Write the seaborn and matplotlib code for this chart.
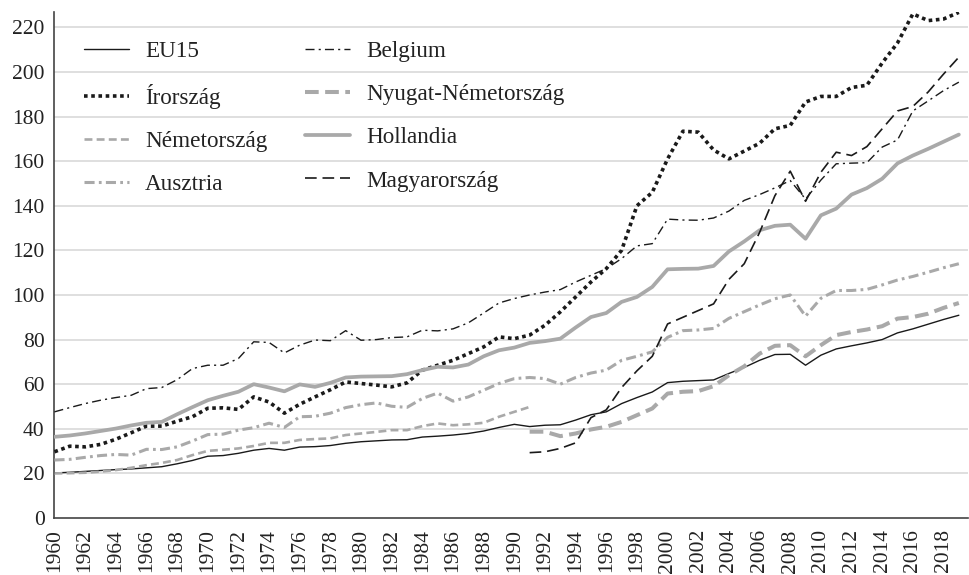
import numpy as np
import pandas as pd
import matplotlib
matplotlib.use("Agg")
import matplotlib.pyplot as plt
import seaborn as sns

years = list(range(1960, 2020))

eu15 = [20.2, 20.5, 20.9, 21.3, 21.7, 22.0, 22.5, 23.0, 24.3, 25.8,
        27.7, 28.0, 29.0, 30.4, 31.2, 30.4, 31.8, 32.0, 32.5, 33.5,
        34.2, 34.6, 35.0, 35.1, 36.3, 36.7, 37.2, 37.9, 39.0, 40.6,
        42.0, 41.0, 41.6, 41.8, 43.9, 46.3, 47.6, 51.3, 54.0, 56.5,
        60.7, 61.3, 61.6, 61.9, 64.8, 67.5, 70.7, 73.3, 73.4, 68.5,
        73.0, 75.8, 77.2, 78.5, 80.0, 83.0, 84.8, 86.9, 89.0, 90.9]

belgium = [47.6, 49.5, 51.3, 52.8, 54.0, 55.0, 58.0, 58.5, 62.0, 67.0,
           68.5, 68.5, 71.5, 79.0, 78.7, 74.0, 77.5, 79.8, 79.5, 84.0,
           79.7, 80.0, 80.9, 81.2, 84.2, 83.9, 84.8, 87.5, 91.9, 96.4,
           98.4, 100.0, 101.3, 102.4, 105.8, 108.8, 111.8, 116.3, 122.0, 123.0,
           134.0, 133.6, 133.5, 134.5, 137.6, 142.4, 145.0, 148.0, 151.3, 143.0,
           151.5, 158.8, 159.1, 159.3, 166.3, 169.5, 182.5, 187.0, 191.6, 195.4]

irorszag = [29.7, 32.2, 31.9, 33.0, 35.3, 38.2, 41.2, 41.2, 43.4, 45.4,
            49.2, 49.4, 48.7, 54.3, 52.0, 47.0, 51.0, 54.3, 57.5, 61.0,
            60.3, 59.6, 58.8, 60.6, 66.3, 68.5, 70.7, 73.7, 76.7, 81.2,
            80.4, 82.0, 86.4, 92.4, 99.1, 105.8, 111.8, 120.0, 140.0, 146.0,
            161.0, 173.4, 173.0, 165.0, 161.0, 164.5, 168.0, 174.5, 176.0, 186.5,
            189.0, 189.0, 193.0, 194.0, 204.0, 213.0, 226.0, 223.0, 223.7, 226.7]

hollandia = [36.4, 37.0, 37.9, 39.0, 40.1, 41.5, 42.7, 43.1, 46.5, 49.7,
             52.8, 54.8, 56.6, 60.0, 58.5, 56.8, 59.9, 58.8, 60.6, 63.0,
             63.4, 63.5, 63.6, 64.5, 66.3, 67.8, 67.5, 68.8, 72.5, 75.2,
             76.4, 78.5, 79.3, 80.4, 85.4, 90.1, 91.9, 96.9, 99.1, 103.6,
             111.5, 111.7, 111.8, 113.0, 119.5, 124.0, 129.0, 131.0, 131.5, 125.2,
             135.7, 138.7, 145.0, 147.9, 152.1, 159.0, 162.5, 165.5, 168.7, 171.9]

ausztria = [26.0, 26.3, 27.2, 28.0, 28.5, 28.2, 30.8, 30.7, 31.9, 34.5,
            37.4, 37.6, 39.4, 40.5, 42.5, 40.6, 45.4, 45.6, 47.0, 49.5,
            50.8, 51.6, 50.1, 49.6, 53.6, 56.0, 52.4, 54.3, 57.3, 60.3,
            62.5, 63.0, 62.5, 60.0, 63.0, 65.0, 66.3, 70.7, 72.5, 74.5,
            81.0, 84.0, 84.3, 85.0, 89.5, 92.5, 95.5, 98.3, 100.0, 90.5,
            98.5, 102.0, 102.0, 102.5, 104.5, 106.7, 108.3, 110.2, 112.2, 114.0]

# series drawn 1960-1991
nemet_early_years = list(range(1960, 1992))
nemet_early = [20.0, 20.1, 20.3, 20.8, 21.5, 22.5, 23.7, 24.7, 26.0, 28.2,
               30.1, 30.6, 31.2, 32.3, 33.7, 33.7, 35.0, 35.4, 35.7, 37.2,
               37.9, 38.6, 39.4, 39.4, 41.2, 42.4, 41.6, 42.0, 42.7, 45.4,
               47.6, 49.8]

# series drawn 1991-2019
late_years = list(range(1991, 2020))
nemet_late = [38.7, 38.7, 36.7, 37.9, 39.7, 40.9, 43.1, 46.1, 49.1,
              55.8, 56.6, 56.9, 59.1, 64.0, 68.0, 73.7, 77.2, 77.5, 72.5,
              77.5, 82.0, 83.4, 84.5, 86.0, 89.4, 90.1, 91.6, 94.2, 96.4]

magyar = [29.3, 29.7, 31.2, 33.7, 45.0, 48.5, 58.5, 66.0, 72.5,
          87.0, 90.0, 93.0, 96.0, 107.0, 114.0, 128.0, 144.5, 155.5, 142.0,
          155.0, 164.0, 162.5, 166.5, 174.5, 182.5, 184.5, 191.0, 199.0, 206.6]

x_tick_labels = [str(y) for y in range(1960, 2019, 2)]
y_ticks = list(range(0, 221, 20))

sns.set_theme(style="white")
plt.rcParams['font.family'] = ['Liberation Serif', 'DejaVu Serif']

GRAY = '#a9a9a9'
BLACK = '#1a1a1a'

fig = plt.figure(figsize=(9.69, 5.75), dpi=100)
ax = fig.add_axes([0.0562, 0.0991, 0.9428, 0.8806])

for yv in y_ticks[1:]:
    ax.axhline(yv, color='#d6d6d6', lw=1.1, zorder=0)

def draw(xs, ys, label, color, lw, dashes=None):
    sns.lineplot(x=xs, y=ys, ax=ax, color=color, linewidth=lw, label=label,
                 legend=False, zorder=3)
    ln = ax.lines[-1]
    if dashes is not None:
        ln.set_dashes(dashes)
    return ln

h = {}
h['EU15'] = draw(years, eu15, 'EU15', BLACK, 1.0)
h['Írország'] = draw(years, irorszag, 'Írország', BLACK, 2.6, (1.0, 1.0))
h['Németország'] = draw(nemet_early_years, nemet_early, 'Németország', GRAY, 1.9, (3.0, 1.6))
h['Ausztria'] = draw(years, ausztria, 'Ausztria', GRAY, 2.2, (3.3, 1.4, 0.9, 1.4))
h['Belgium'] = draw(years, belgium, 'Belgium', BLACK, 1.0, (6.5, 3.0, 1.5, 3.0))
h['Nyugat-Németország'] = draw(late_years, nemet_late, 'Nyugat-Németország', GRAY, 2.9, (3.4, 1.6))
h['Hollandia'] = draw(years, hollandia, 'Hollandia', GRAY, 2.7)
h['Magyarország'] = draw(late_years, magyar, 'Magyarország', BLACK, 1.2, (7.0, 3.5))

order = ['EU15', 'Írország', 'Németország', 'Ausztria',
         'Belgium', 'Nyugat-Németország', 'Hollandia', 'Magyarország']
leg = ax.legend([h[k] for k in order], order, ncol=2, loc='upper left',
                bbox_to_anchor=(0.032, 0.943), frameon=False, fontsize=16.7,
                handlelength=1.95, handletextpad=0.7, columnspacing=1.6,
                labelspacing=0.95, borderpad=0, borderaxespad=0)
for t in leg.get_texts():
    t.set_color('#222222')

ax.set_xlim(1960, 2019.6)
ax.set_ylim(0, 227)
ax.set_yticks(y_ticks)
ax.set_xticks(years, minor=False)
ax.set_xticklabels([str(y) if (y - 1960) % 2 == 0 else '' for y in years],
                   rotation=90)
ax.tick_params(axis='both', direction='out', length=5, width=1.0,
               color='#444444', labelsize=15.5, labelcolor='#222222', pad=2)
ax.tick_params(axis='x', pad=3)

for s in ['top', 'right']:
    ax.spines[s].set_visible(False)
for s in ['left', 'bottom']:
    ax.spines[s].set_color('#444444')
    ax.spines[s].set_linewidth(1.2)

ax.set_xlabel('')
ax.set_ylabel('')

fig.savefig('out.png', dpi=100)
